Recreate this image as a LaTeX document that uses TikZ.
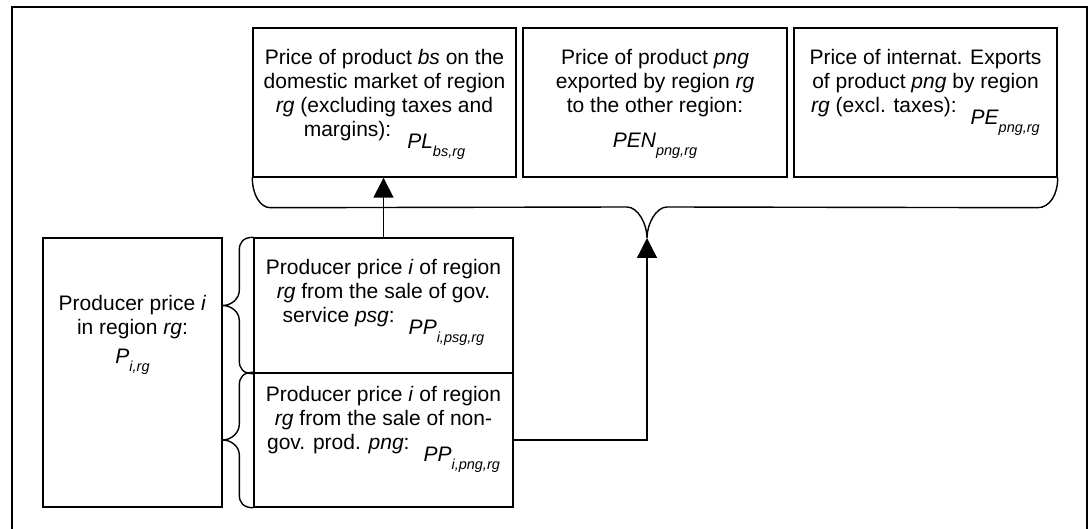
\documentclass[tikz,border=0pt]{standalone}
\usepackage{fontspec}
\setmainfont{Liberation Sans}
\usetikzlibrary{arrows.meta,calc}

% variable with a lowered subscript, set like an inline equation object
\newcommand\eqvar[3][-12pt]{\raisebox{#1}{\itshape #2\raisebox{-8pt}{\fontsize{14.5}{14.5}\selectfont #3}}}

\begin{document}
\begin{tikzpicture}[x=1pt,y=-1pt,
    box/.style={draw, rectangle, line width=1.4pt, inner sep=0pt},
    lbl/.style={inner sep=0pt, align=center, anchor=north,
                font=\fontsize{21}{24.15}\selectfont},
    link/.style={line width=1.4pt},
    headed/.style={link, -{Triangle[length=20pt,width=20pt]}},
    frame/.style={line width=2pt}]

\useasboundingbox (0,0) rectangle (1089,529);

% outer frame (open at the bottom)
\draw[frame] (12,529) -- (12,7) -- (1087,7) -- (1087,529);

% top row of price boxes
\node[box, minimum width=263pt, minimum height=149pt] (b1) at (384.5,102.5) {};
\node[box, minimum width=264pt, minimum height=149pt] (b2) at (655,102.5) {};
\node[box, minimum width=263pt, minimum height=149pt] (b3) at (925.5,102.5) {};

% producer price boxes
\node[box, minimum width=179pt, minimum height=269pt] (pl) at (132.5,372.5) {};
\node[box, minimum width=259pt, minimum height=135pt] (pp1) at (383.5,305.5) {};
\node[box, minimum width=259pt, minimum height=134pt] (pp2) at (383.5,440) {};

% texts
\node[lbl] (t1) at ([yshift=-20pt]b1.north)
  {\strut Price of product \textit{bs} on the\\
   domestic market of region\\
   \textit{rg} (excluding taxes and\\
   margins):\hspace{16pt}\eqvar{PL}{bs,rg}};
\node[lbl] (t2) at ([yshift=-20pt]b2.north)
  {\strut Price of product \textit{png}\\
   exported by region \textit{rg}\\
   to the other region:\\
   \eqvar[-11pt]{PEN}{png,rg}};
\node[lbl] (t3) at ([yshift=-20pt]b3.north)
  {\strut Price of internat. Exports\\
   of product \textit{png} by region\\
   \textit{rg} (excl. taxes):\hspace{14pt}\eqvar{PE}{png,rg}};
\node[lbl] (t4) at ([yshift=-55.6pt]pl.north)
  {\strut Producer price \textit{i}\\
   in region \textit{rg}:\\
   \eqvar[-5pt]{P}{i,rg}};
\node[lbl] (t5) at ([yshift=-20pt]pp1.north)
  {\strut Producer price \textit{i} of region\\
   \textit{rg} from the sale of gov.\\
   service \textit{psg}:\hspace{14pt}\eqvar{PP}{i,psg,rg}};
\node[lbl] (t6) at ([yshift=-11.6pt]pp2.north)
  {\strut Producer price \textit{i} of region\\
   \textit{rg} from the sale of non-\\
   gov. prod. \textit{png}:\hspace{14pt}\eqvar{PP}{i,png,rg}};

% tip of the large brace under the top row
\coordinate (tip) at (647,238);

% large brace grouping the three top boxes
\draw[link] (b1.south west)
  .. controls ++(0,17) and ++(-10,0) .. ++(18,30)
  -- ($(tip)+(-20,-31)$)
  .. controls ++(11,0) and ++(0,-14) .. (tip)
  .. controls ++(0,-14) and ++(-11,0) .. ($(tip)+(20,-31)$)
  -- ($(b3.south east)+(-20,30)$)
  .. controls ++(12,0) and ++(0,17) .. (b3.south east);

% braces joining the producer price to its two components
\draw[link] (pp1.north west)
  .. controls ++(-10,0) and ++(0,-8) .. ++(-14,13)
  -- ++(0,40)
  .. controls ++(0,9) and ++(8,0) .. ($(pl.east |- pp1.west)$)
  .. controls ++(8,0) and ++(0,-9) .. ($(pp1.west)+(-14,15)$)
  -- ($(pp1.south west)+(-14,-13)$)
  .. controls ++(0,8) and ++(-10,0) .. (pp1.south west);
\draw[link] (pp2.north west)
  .. controls ++(-10,0) and ++(0,-8) .. ++(-14,13)
  -- ++(0,39)
  .. controls ++(0,9) and ++(8,0) .. ($(pl.east |- pp2.west)$)
  .. controls ++(8,0) and ++(0,-9) .. ($(pp2.west)+(-14,15)$)
  -- ($(pp2.south west)+(-14,-13)$)
  .. controls ++(0,8) and ++(-10,0) .. (pp2.south west);

% arrows
\draw[headed] (pp1.north) -- (pp1.north |- b1.south);
\draw[headed] (pp2.east) -| (tip);

\end{tikzpicture}
\end{document}
